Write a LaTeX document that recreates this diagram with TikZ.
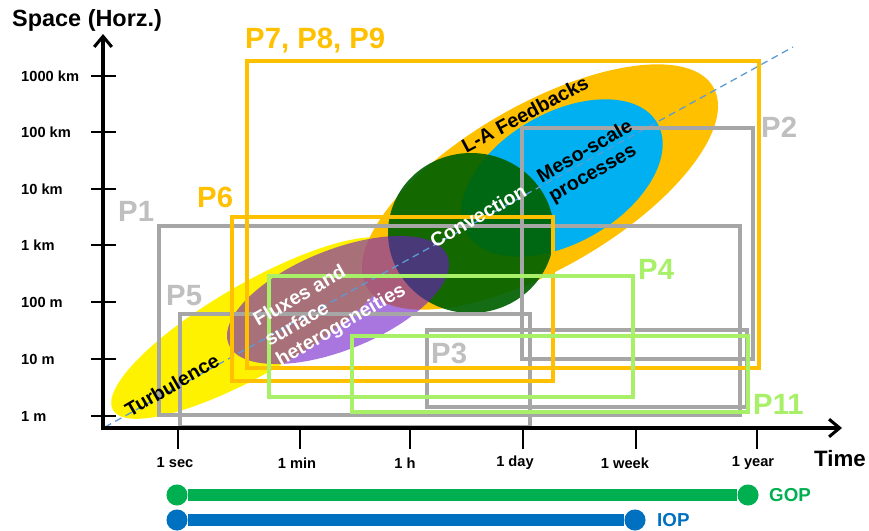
\documentclass[tikz,border=0pt]{standalone}
\usepackage{fontspec}
\setmainfont{Liberation Sans}
\usepackage{tikz}
\usetikzlibrary{arrows.meta}

\definecolor{boxgray}{RGB}{166,166,166}
\definecolor{labgray}{RGB}{191,191,191}
\definecolor{laorange}{RGB}{255,192,0}
\definecolor{boxgreen}{RGB}{168,240,104}
\definecolor{mesocyan}{RGB}{0,176,240}
\definecolor{convgreen}{RGB}{0,97,0}
\definecolor{fluxpurple}{RGB}{111,26,203}
\definecolor{gopgreen}{RGB}{0,176,80}
\definecolor{iopblue}{RGB}{0,112,192}
\definecolor{diagblue}{RGB}{91,155,213}

\begin{document}
\begin{tikzpicture}[x=0.03cm, y=-0.03cm,
  axis/.style={line width=3pt, {Straight Barb[length=9pt, width=15pt, line width=2.6pt]}-{Straight Barb[length=9pt, width=15pt, line width=2.6pt]}},
  tickmark/.style={line width=2.4pt},
  pbox/.style={line width=2.6pt},
  plab/.style={font=\bfseries\fontsize{25}{28}\selectfont, anchor=base west, inner sep=0pt},
  tlab/.style={font=\bfseries\fontsize{12.5}{14}\selectfont, inner sep=0pt},
  elab/.style={font=\bfseries\fontsize{16.8}{19.5}\selectfont, align=left, inner sep=0pt},
  dot/.style={circle, minimum size=18pt, inner sep=0pt},
  bar/.style={line width=9.5pt}]
  \useasboundingbox (0,0) rectangle (869,530);

  \fill[yellow, rotate around={30:(255,328)}] (255,328) ellipse [x radius=164, y radius=45];
  \fill[laorange, rotate around={30:(540,187)}] (540,187) ellipse [x radius=200, y radius=82];
  \fill[mesocyan, rotate around={30:(562,178)}] (562,178) ellipse [x radius=110, y radius=65];
  \fill[convgreen, opacity=0.92] (471,233) ellipse [x radius=83, y radius=80];
  \fill[fluxpurple, opacity=0.6, rotate around={22:(338,300)}] (338,300) ellipse [x radius=118, y radius=50];

  \coordinate (dstart) at (105,427);
  \coordinate (dend) at (793,47);
  \draw[diagblue, line width=1.1pt, dash pattern=on 6pt off 4pt] (dstart) -- (dend);

  \draw[pbox, boxgray] (159,226) rectangle (740,415);
  \draw[pbox, boxgray] (180,314) rectangle (530,427);
  \draw[pbox, boxgray] (522,128) rectangle (753,359);
  \draw[pbox, boxgray] (427,330) rectangle (747,407);
  \draw[pbox, laorange] (247,61) rectangle (759,368);
  \draw[pbox, laorange] (232,217) rectangle (553,381);
  \draw[pbox, boxgreen] (269,276) rectangle (633,397);
  \draw[pbox, boxgreen] (352,336) rectangle (748,412);

  \node[elab, rotate=30] (turb) at (172,385) {Turbulence};
  \node[elab, rotate=30, white] (flux) at (330,306) {Fluxes and\\surface\\heterogeneities};
  \node[elab, rotate=30, white] (conv) at (478,216) {Convection};
  \node[elab, rotate=30] (meso) at (591,162) {Meso-scale\\processes};
  \node[elab, rotate=28] (lafb) at (525,114) {L-A Feedbacks};

  \node[plab, laorange] (p789) at (245,48) {P7, P8, P9};
  \node[plab, labgray] (p2) at (761,137) {P2};
  \node[plab, labgray] (p1) at (118,221) {P1};
  \node[plab, laorange] (p6) at (197,207) {P6};
  \node[plab, labgray] (p5) at (166,305) {P5};
  \node[plab, boxgreen] (p4) at (638,279) {P4};
  \node[plab, labgray] (p3) at (431,363) {P3};
  \node[plab, boxgreen] (p11) at (753,414) {P11};

  \coordinate (origin) at (103,428);
  \coordinate (ytip) at (103,34);
  \coordinate (xtip) at (842,428);
  \draw[axis] (ytip) -- (origin) -- (xtip);

  \foreach \yv/\lab [count=\i] in {416/1 m, 359/10 m, 302/100 m, 245/1 km, 189/10 km, 132/100 km, 76/1000 km}
  {
    \draw[tickmark] (91,\yv) -- (116,\yv);
    \node[tlab, anchor=west] (ylab\i) at (21,\yv) {\lab};
  }
  \foreach \xv/\lx/\lab [count=\i] in {178/175/1 sec, 300/297/1 min, 410/405/1 h, 523/515/1 day, 636/625/1 week, 757/753/1 year}
  {
    \draw[tickmark] (\xv,428) -- (\xv,449);
    \node[tlab] (xlab\i) at (\lx,463) {\lab};
  }

  \node[font=\bfseries\fontsize{20}{24}\selectfont, anchor=west, inner sep=0pt] (ytitle) at (12,20) {Space (Horz.)};
  \node[font=\bfseries\fontsize{19}{22}\selectfont, anchor=west, inner sep=0pt] (xtitle) at (814,459) {Time};

  \node[dot, fill=gopgreen] (gops) at (177,495) {};
  \node[dot, fill=gopgreen] (gope) at (748,495) {};
  \draw[bar, gopgreen] (gops) -- (gope);
  \node[font=\bfseries\fontsize{16}{19}\selectfont, gopgreen, anchor=west, inner sep=0pt] (goplab) at (769,495) {GOP};

  \node[dot, fill=iopblue] (iops) at (177,520) {};
  \node[dot, fill=iopblue] (iope) at (635,520) {};
  \draw[bar, iopblue] (iops) -- (iope);
  \node[font=\bfseries\fontsize{16}{19}\selectfont, iopblue, anchor=west, inner sep=0pt] (ioplab) at (657,520) {IOP};
\end{tikzpicture}
\end{document}
